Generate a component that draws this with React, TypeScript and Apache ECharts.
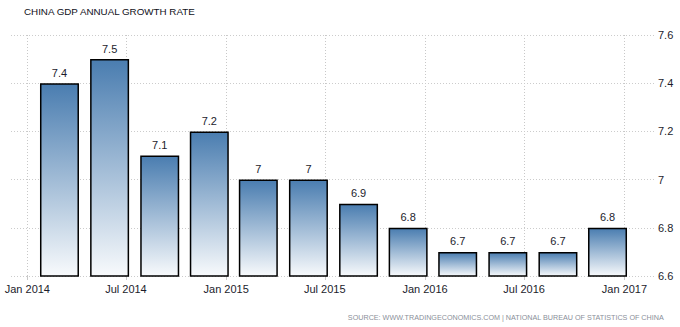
import React, { useEffect, useRef } from "react";
import * as echarts from "echarts";

const periods = [
  "2014-03-01", "2014-06-01", "2014-09-01", "2014-12-01",
  "2015-03-01", "2015-06-01", "2015-09-01", "2015-12-01",
  "2016-03-01", "2016-06-01", "2016-09-01", "2016-12-01",
];
const growth = [7.4, 7.5, 7.1, 7.2, 7.0, 7.0, 6.9, 6.8, 6.7, 6.7, 6.7, 6.8];
const tickDates = ["2014-01-01", "2014-07-01", "2015-01-01", "2015-07-01", "2016-01-01", "2016-07-01", "2017-01-01"];
const tickLabels = ["Jan 2014", "Jul 2014", "Jan 2015", "Jul 2015", "Jan 2016", "Jul 2016", "Jan 2017"];
const axisStart = "2013-12-02";
const axisEnd = "2017-02-28";
const yMin = 6.6;
const yMax = 7.6;
const yStep = 0.2;

// day number since epoch (UTC)
const toDay = (s: string) => {
  const [y, m, d] = s.split("-").map(Number);
  return Math.round(Date.UTC(y, m - 1, d) / 86400000);
};

export default function App() {
  const ref = useRef<HTMLDivElement>(null);
  useEffect(() => {
    if (!ref.current) return;
    const chart = echarts.init(ref.current, undefined, { renderer: "svg" });
    const tickDays = tickDates.map(toDay);
    const font = "'Liberation Sans', Arial, sans-serif";
    const texts = [
      {
        type: "text",
        left: 24,
        top: 6,
        style: {
          text: "CHINA GDP ANNUAL GROWTH RATE",
          fontSize: 9.8,
          fontFamily: font,
          fill: "#101020",
        },
      },
      {
        type: "text",
        right: 16,
        top: 314,
        style: {
          text: "SOURCE: WWW.TRADINGECONOMICS.COM | NATIONAL BUREAU OF STATISTICS OF CHINA",
          fontSize: 7.2,
          fontFamily: font,
          fill: "#8a8f99",
        },
      },
    ];
    chart.setOption({
      animation: false,
      textStyle: { fontFamily: font },
      grid: { left: 11, right: 24, top: 35, bottom: 51, containLabel: false },
      xAxis: {
        type: "value",
        min: toDay(axisStart),
        max: toDay(axisEnd),
        axisLine: { show: false },
        axisTick: { show: false },
        splitLine: { show: false },
        axisLabel: {
          customValues: tickDays,
          margin: 7,
          fontSize: 11,
          color: "#1c1c2c",
          fontFamily: font,
          formatter: (v: number) => {
            const i = tickDays.indexOf(Math.round(v));
            return i >= 0 ? tickLabels[i] : "";
          },
        },
      },
      yAxis: {
        type: "value",
        position: "right",
        min: yMin,
        max: yMax,
        interval: yStep,
        axisLine: { show: false },
        axisTick: { show: false },
        splitLine: { show: true, lineStyle: { color: "#cccccc", type: [1, 2] } },
        axisLabel: {
          margin: 2,
          fontSize: 11,
          color: "#1c1c2c",
          fontFamily: font,
          formatter: (v: number) => String(Math.round(v * 10) / 10),
        },
      },
      series: [
        {
          type: "bar",
          z: 3,
          data: periods.map((p, i) => [toDay(p), growth[i]]),
          barWidth: 39,
          itemStyle: {
            borderColor: "#000000",
            borderWidth: 1.5,
            color: new echarts.graphic.LinearGradient(0, 0, 0, 1, [
              { offset: 0, color: "#4a7db0" },
              { offset: 1, color: "#f8fafc" },
            ]),
          },
          label: {
            show: true,
            position: "top",
            distance: 5,
            fontSize: 11,
            color: "#1c1c2c",
            fontFamily: font,
            formatter: (p: any) => String(p.value[1]),
          },
        },
      ],
      graphic: texts,
    });

    // vertical grid lines and ticks at the month ticks, placed through the axis scales
    const vLines: any[] = [];
    tickDays.forEach((d) => {
      const top = chart.convertToPixel({ xAxisIndex: 0, yAxisIndex: 0 }, [d, yMax]) as number[];
      const bot = chart.convertToPixel({ xAxisIndex: 0, yAxisIndex: 0 }, [d, yMin]) as number[];
      if (!top || !bot) return;
      const x = Math.round(top[0]) + 0.5;
      const y1 = Math.round(top[1]);
      const y2 = Math.round(bot[1]);
      vLines.push({
        type: "line",
        z: -1,
        silent: true,
        shape: { x1: x, y1, x2: x, y2 },
        style: { stroke: "#c8c8c8", lineWidth: 1, lineDash: [1, 2] },
      });
      vLines.push({
        type: "line",
        z: -1,
        silent: true,
        shape: { x1: x, y1: y2, x2: x, y2: y2 + 4 },
        style: { stroke: "#c8c8c8", lineWidth: 1 },
      });
    });
    chart.setOption({ graphic: [...texts, ...vLines] }, { replaceMerge: ["graphic"] });

    return () => chart.dispose();
  }, []);
  return (
    <div
      ref={ref}
      style={{ position: "absolute", left: 0, top: 0, width: 680, height: 327, background: "#fff" }}
    />
  );
}
